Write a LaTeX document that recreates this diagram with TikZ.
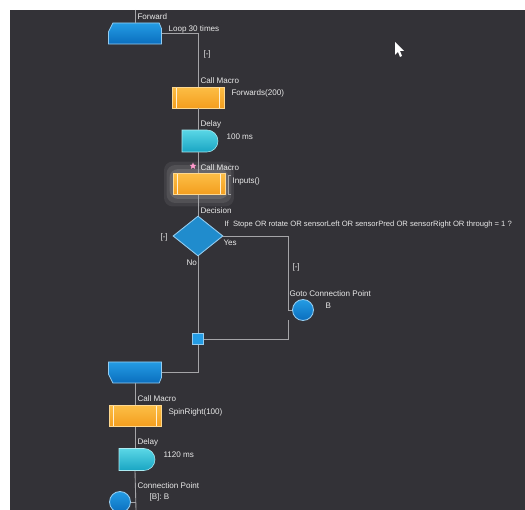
\documentclass[tikz,border=0pt]{standalone}
\usepackage{fontspec}
\setmainfont{Liberation Sans}
\usepackage{xcolor}
\usepackage{tikz}
\usetikzlibrary{shapes,shapes.geometric,shapes.misc,calc,positioning}

\definecolor{bgc}{RGB}{51,50,55}
\definecolor{wirec}{RGB}{165,165,168}
\definecolor{txtc}{RGB}{232,232,232}
\definecolor{macrotop}{RGB}{252,190,70}
\definecolor{macrobot}{RGB}{244,158,30}
\definecolor{bluetop}{RGB}{36,156,228}
\definecolor{bluebot}{RGB}{10,110,190}
\definecolor{cyantop}{RGB}{90,215,230}
\definecolor{cyanbot}{RGB}{25,165,195}
\definecolor{blueedge}{RGB}{150,205,240}

\begin{document}
\begin{tikzpicture}[x=0.02cm,y=-0.02cm,semithick,transform shape]
	\tikzstyle{lbl} = [font=\fontsize{4.6}{5.5}\selectfont,text=txtc,inner sep=0pt,anchor=west]
	\tikzstyle{wire} = [draw=wirec,line width=0.5pt]
	\tikzstyle{macro} = [draw=macrotop!60!white,line width=0.3pt,rectangle,top color=macrotop,bottom color=macrobot,minimum width=1.04cm,minimum height=0.42cm,inner sep=0pt,
		path picture={\draw[white!75!macrotop,line width=0.5pt] ([xshift=2.8pt]path picture bounding box.north west) -- ([xshift=2.8pt]path picture bounding box.south west);
			\draw[white!75!macrotop,line width=0.5pt] ([xshift=-2.8pt]path picture bounding box.north east) -- ([xshift=-2.8pt]path picture bounding box.south east);}]
	\tikzstyle{loopbox} = [rectangle,minimum width=1.04cm,minimum height=0.4cm,inner sep=0pt]
	\tikzstyle{loopfill} = [draw=blueedge,line width=0.4pt,top color=bluetop,bottom color=bluebot]
	\tikzstyle{delay} = [draw=cyantop!50!white,line width=0.3pt,rounded rectangle,rounded rectangle west arc=none,top color=cyantop,bottom color=cyanbot,minimum width=0.72cm,minimum height=0.44cm,inner sep=0pt]
	\tikzstyle{decision} = [draw=blueedge,line width=0.5pt,diamond,aspect=1.25,fill=bluetop!90!black,minimum width=1cm,minimum height=0.8cm,inner sep=0pt]
	\tikzstyle{conn} = [draw=blueedge,line width=0.5pt,circle,top color=bluetop,bottom color=bluebot,minimum size=0.42cm,inner sep=0pt]
	\tikzstyle{junction} = [draw=blueedge,line width=0.4pt,rectangle,fill=bluetop,minimum size=0.22cm,inner sep=0pt]
	\tikzstyle{glow} = [rectangle,rounded corners=5pt,fill=white,inner sep=0pt]

	% frame
	\fill[white] (0,0) rectangle (525,510);
	\fill[bgc] (10,10) rectangle (525,510);
	\useasboundingbox (0,0) rectangle (525,510);

	% blocks
	\node[loopbox] (L1) at (135,33.5) {};
	\shade[loopfill] ([xshift=2.5pt]L1.north west) -- ([xshift=-1.3pt]L1.north east) -- ([yshift=-3.2pt]L1.north east) -- (L1.south east) -- (L1.south west) -- ([yshift=-5pt]L1.north west) -- cycle;
	\node[macro] (M1) at (198,97.5) {};
	\node[delay] (D1) at (200,141) {};
	\node[glow,opacity=0.07,minimum width=1.4cm,minimum height=0.9cm] (G0) at (199,184) {};
	\node[glow,opacity=0.09,minimum width=1.3cm,minimum height=0.76cm] (G1) at (199,184) {};
	\node[glow,opacity=0.12,minimum width=1.18cm,minimum height=0.6cm] (G2) at (199,184) {};
	\node[macro] (M2) at (199,184) {};
	\node[decision] (Dec) at (198,236) {};
	\node[conn] (Goto) at (303,310) {};
	\node[junction] (J) at (198,339) {};
	\node[loopbox] (L2) at (135,372.5) {};
	\shade[loopfill] (L2.north west) -- (L2.north east) -- ([yshift=3.2pt]L2.south east) -- ([xshift=-1.3pt]L2.south east) -- ([xshift=2.5pt]L2.south west) -- ([yshift=5pt]L2.south west) -- cycle;
	\node[macro] (M3) at (135,416) {};
	\node[delay] (D2) at (137,459.5) {};
	\node[conn] (CP) at (120,502) {};
	\node[star,star points=5,star point ratio=2.2,fill=pink!80!magenta,inner sep=0pt,minimum size=4pt] (S) at (193,166) {};

	\coordinate (top) at (135,10);
	\coordinate (yesc) at (288,236);
	\coordinate (ret) at (288,320);
	\coordinate (bot) at (136,510);

	% connectors
	\draw[wire] (top) -- (L1.north);
	\draw[wire] (L1.east) -| (M1.north);
	\draw[wire] ([xshift= 0pt] M1.south) -- (M1.south |- D1.north);
	\draw[wire] (M1.south |- D1.south) -- (M1.south |- M2.north);
	\draw[wire] (M1.south |- M2.south) -- (Dec.north);
	\draw[wire] (Dec.east) -- (yesc) |- (Goto.west);
	\draw[wire] (ret) |- (J.east);
	\draw[wire] (Dec.south) -- (J.north);
	\draw[wire] (J.south) |- (L2.east);
	\draw[wire] (L2.south) -- (M3.north);
	\draw[wire] (M3.south) -- (M3.south |- D2.north);
	\draw[wire] (M3.south |- D2.south) -- (bot);
	\draw[wire] (CP.east) -- (CP.east -| bot);
	\draw[wire,line width=0.4pt] (231,175) -- (228,175) -- (228,194) -- (231,194);

	% labels
	\node[lbl] (tForward) at (137,17) {Forward};
	\node[lbl] (tLoop) at (168,29) {Loop 30 times};
	\node[lbl] (tC1) at (203,54) {[-]};
	\node[lbl] (tM1) at (200,81) {Call Macro};
	\node[lbl] (tF200) at (231,93) {Forwards(200)};
	\node[lbl] (tD1) at (200,124) {Delay};
	\node[lbl] (t100) at (226,137) {100 ms};
	\node[lbl] (tM2) at (200,168) {Call Macro};
	\node[lbl] (tIn) at (232,181) {Inputs()};
	\node[lbl] (tDec) at (200,211) {Decision};
	\node[lbl,font=\fontsize{4.35}{5.5}\selectfont] (tCond) at (224,225) {If\ \ Stope OR rotate OR sensorLeft OR sensorPred OR sensorRight OR through = 1 ?};
	\node[lbl] (tC2) at (160,237) {[-]};
	\node[lbl] (tYes) at (223,243) {Yes};
	\node[lbl] (tNo) at (186,263) {No};
	\node[lbl] (tC3) at (292,267) {[-]};
	\node[lbl] (tGoto) at (289,294) {Goto Connection Point};
	\node[lbl] (tB) at (325,306) {B};
	\node[lbl] (tM3) at (137,399) {Call Macro};
	\node[lbl] (tSpin) at (168,412) {SpinRight(100)};
	\node[lbl] (tD2) at (137,442) {Delay};
	\node[lbl] (t1120) at (163,455) {1120 ms};
	\node[lbl] (tCP) at (137,486) {Connection Point};
	\node[lbl] (tCPB) at (149,497) {[B]: B};

	% mouse pointer
	\fill[white] (395,42) -- (395,55) -- (398,52) -- (400,57) -- (402,56) -- (400,51) -- (404,51) -- cycle;
\end{tikzpicture}
\end{document}
